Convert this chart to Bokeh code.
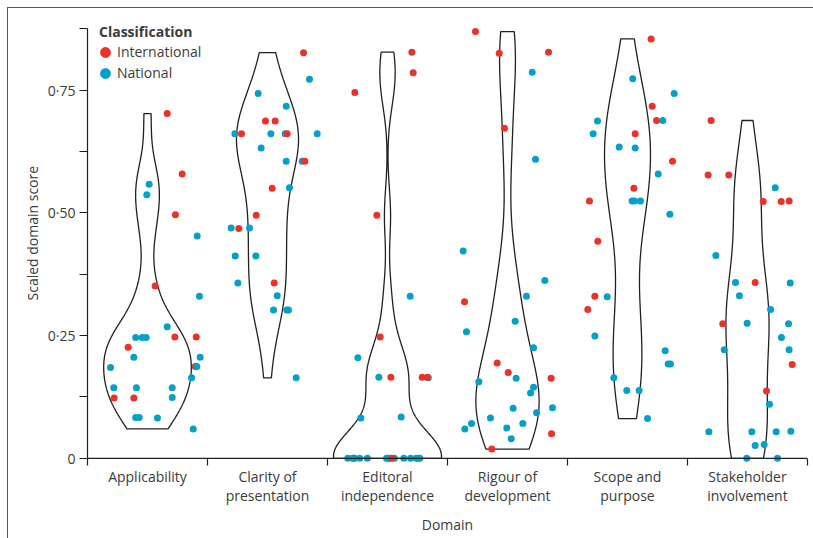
import numpy as np
from bokeh.plotting import figure
from bokeh.models import (FixedTicker, Range1d, Legend, LegendItem, Title, Span,
                          ColumnDataSource)
from bokeh.embed import file_html
from bokeh.resources import INLINE

# ---------------- data ----------------
DOMAINS = ["Applicability", "Clarity of\npresentation", "Editoral\nindependence",
           "Rigour of\ndevelopment", "Scope and\npurpose", "Stakeholder\ninvolvement"]

Y_TICKS = [0, 0.25, 0.5, 0.75]
Y_TICK_LABELS = ["0", "0·25", "0·50", "0·75"]
Y_MINOR_TICKS = [0.125, 0.375, 0.625, 0.875]

CLASSES = ["International", "National"]

# I = International, N = National ; jitter = horizontal offset in category units
applicability_score = [0.702, 0.579, 0.558, 0.537, 0.496, 0.453, 0.351, 0.330, 0.268, 0.246,
                       0.246, 0.246, 0.247, 0.247, 0.226, 0.206, 0.206, 0.185, 0.187, 0.187,
                       0.164, 0.144, 0.144, 0.144, 0.124, 0.123, 0.123, 0.083, 0.083, 0.082, 0.060]
applicability_jitter = [0.164, 0.289, 0.014, -0.006, 0.233, 0.414, 0.064, 0.433, 0.164, -0.098,
                        -0.044, -0.011, 0.228, 0.406, -0.161, -0.114, 0.439, -0.308, 0.398, 0.411,
                        0.367, -0.281, -0.092, 0.206, 0.206, -0.278, -0.114, -0.098, -0.069, 0.083, 0.381]
applicability_class = ["I", "I", "N", "N", "I", "N", "I", "N", "N", "N",
                       "N", "N", "I", "I", "I", "N", "N", "N", "I", "N",
                       "N", "N", "N", "N", "N", "I", "I", "N", "N", "N", "N"]

clarity_score = [0.826, 0.772, 0.743, 0.717, 0.687, 0.687, 0.661, 0.661, 0.661, 0.661,
                 0.661, 0.661, 0.632, 0.605, 0.605, 0.605, 0.550, 0.551, 0.495, 0.469,
                 0.468, 0.469, 0.412, 0.412, 0.357, 0.357, 0.331, 0.302, 0.302, 0.302, 0.164]
clarity_jitter = [0.300, 0.350, -0.078, 0.156, -0.017, 0.064, -0.272, -0.217, 0.028, 0.147,
                  0.164, 0.414, -0.053, 0.156, 0.289, 0.311, 0.039, 0.183, -0.094, -0.303,
                  -0.239, -0.150, -0.269, -0.097, -0.247, 0.056, 0.081, 0.050, 0.161, 0.175, 0.239]
clarity_class = ["I", "N", "N", "N", "I", "I", "N", "I", "N", "N",
                 "I", "N", "N", "N", "N", "I", "I", "N", "I", "N",
                 "I", "N", "N", "N", "N", "I", "N", "N", "N", "N", "N"]

editorial_score = [0.827, 0.785, 0.745, 0.495, 0.330, 0.247, 0.205, 0.165, 0.165, 0.165,
                   0.164, 0.165, 0.082, 0.084, 0.0, 0.0, 0.0, 0.0, 0.0, 0.0,
                   0.0, 0.0, 0.0, 0.0, 0.0, 0.0, 0.0, 0.0, 0.0, 0.0, 0.0]
editorial_jitter = [0.203, 0.214, -0.272, -0.089, 0.189, -0.061, -0.247, -0.072, 0.028, 0.289,
                    0.340, 0.333, -0.222, 0.114, -0.290, -0.331, -0.282, -0.275, -0.232, -0.168,
                    -0.008, 0.005, 0.011, 0.020, 0.058, 0.136, 0.192, 0.240, 0.255, 0.269, 0.036]
editorial_class = ["I", "I", "I", "I", "N", "I", "N", "N", "I", "I",
                   "N", "I", "N", "N", "I", "N", "N", "N", "N", "N",
                   "N", "N", "N", "N", "N", "N", "N", "N", "N", "N", "I"]

rigour_score = [0.869, 0.825, 0.827, 0.786, 0.672, 0.609, 0.422, 0.362, 0.330, 0.319,
                0.279, 0.258, 0.225, 0.194, 0.175, 0.156, 0.163, 0.163, 0.145, 0.133,
                0.102, 0.103, 0.093, 0.082, 0.071, 0.060, 0.062, 0.071, 0.040, 0.050, 0.019]
rigour_jitter = [-0.267, -0.069, 0.342, 0.206, -0.025, 0.233, -0.369, 0.311, 0.158, -0.358,
                 0.064, -0.342, 0.217, -0.086, 0.006, -0.239, 0.072, 0.364, 0.217, 0.192,
                 0.047, 0.375, 0.242, -0.142, -0.300, -0.356, -0.006, 0.128, 0.031, 0.367, -0.131]
rigour_class = ["I", "I", "I", "N", "I", "N", "N", "N", "N", "I",
                "N", "N", "N", "I", "I", "N", "N", "I", "N", "N",
                "N", "N", "N", "N", "N", "N", "N", "N", "N", "I", "I"]

scope_score = [0.854, 0.773, 0.743, 0.717, 0.687, 0.688, 0.688, 0.661, 0.661, 0.634,
               0.632, 0.605, 0.579, 0.550, 0.524, 0.524, 0.524, 0.524, 0.497, 0.442,
               0.330, 0.329, 0.303, 0.249, 0.219, 0.192, 0.192, 0.164, 0.138, 0.138, 0.081]
scope_jitter = [0.197, 0.044, 0.389, 0.206, -0.250, 0.242, 0.294, -0.286, 0.064, -0.069,
                0.064, 0.375, 0.256, 0.053, -0.317, 0.039, 0.058, 0.108, 0.353, -0.247,
                -0.272, -0.169, -0.331, -0.272, 0.314, 0.339, 0.358, -0.114, -0.006, 0.097, 0.167]
scope_class = ["I", "N", "N", "I", "N", "I", "N", "N", "I", "N",
               "N", "I", "N", "I", "I", "N", "N", "N", "N", "I",
               "I", "N", "I", "N", "N", "N", "N", "N", "N", "N", "N"]

stakeholder_score = [0.688, 0.577, 0.577, 0.551, 0.523, 0.523, 0.524, 0.413, 0.358, 0.358,
                     0.357, 0.331, 0.303, 0.274, 0.275, 0.274, 0.246, 0.221, 0.221, 0.191,
                     0.137, 0.110, 0.054, 0.054, 0.054, 0.055, 0.026, 0.028, 0.0, 0.0]
stakeholder_jitter = [-0.303, -0.328, -0.156, 0.231, 0.131, 0.281, 0.347, -0.264, -0.100, 0.064,
                      0.356, -0.067, 0.192, -0.206, -0.003, 0.342, 0.283, -0.194, 0.347, 0.372,
                      0.158, 0.183, -0.322, 0.036, 0.239, 0.361, 0.064, 0.139, -0.006, 0.250]
stakeholder_class = ["I", "I", "I", "N", "I", "I", "I", "N", "N", "I",
                     "N", "N", "N", "I", "N", "N", "N", "N", "N", "I",
                     "I", "N", "N", "N", "N", "N", "N", "N", "N", "N"]

SCORES = [applicability_score, clarity_score, editorial_score,
          rigour_score, scope_score, stakeholder_score]
JITTERS = [applicability_jitter, clarity_jitter, editorial_jitter,
           rigour_jitter, scope_jitter, stakeholder_jitter]
CLASS_CODES = [applicability_class, clarity_class, editorial_class,
               rigour_class, scope_class, stakeholder_class]

# ---------------- styles ----------------
RED = "#ec3228"
BLUE = "#05a0c8"
INK = "#231f20"
TEXT = "#3b3b3b"
FONT = "Open Sans"


def kde_trim(vals, n=512):
    v = np.asarray(vals, dtype=float)
    sd = v.std(ddof=1)
    q75, q25 = np.percentile(v, [75, 25])
    lo = min(sd, (q75 - q25) / 1.34)
    if lo <= 0:
        lo = sd if sd > 0 else 1.0
    bw = 0.9 * lo * len(v) ** -0.2
    grid = np.linspace(v.min(), v.max(), n)
    dens = np.exp(-0.5 * ((grid[:, None] - v[None, :]) / bw) ** 2).sum(1)
    dens /= (len(v) * bw * np.sqrt(2 * np.pi))
    return grid, dens


p = figure(frame_width=720, frame_height=442,
           x_range=Range1d(0, 6), y_range=Range1d(-0.0125, 0.8875),
           output_backend="svg", toolbar_location=None,
           min_border_left=79, min_border_right=6, min_border_top=14, min_border_bottom=74,
           background_fill_color="white", border_fill_color="white")
p.styles = {"margin-left": "7px", "margin-top": "7px",
            "border-left": "1px solid #2c6e50", "border-top": "1px solid #2c6e50"}
p.outline_line_color = None
p.grid.visible = False

# violins (trimmed kernel density, common area scaling, width 0.9)
kdes = [kde_trim(s) for s in SCORES]
gmax = max(d.max() for _, d in kdes)
for i, (grid, dens) in enumerate(kdes):
    c = i + 0.5
    hw = dens / gmax * 0.45
    xs = np.concatenate([c + hw, (c - hw)[::-1]])
    ys = np.concatenate([grid, grid[::-1]])
    p.patch(xs, ys, fill_color=None, line_color=INK, line_width=1.3)

# x axis line at zero
p.add_layout(Span(location=0, dimension="width", line_color=INK, line_width=1.2))

# jittered points
px, py, pc = [], [], []
for i in range(len(DOMAINS)):
    for s, j, k in zip(SCORES[i], JITTERS[i], CLASS_CODES[i]):
        px.append(i + 0.5 + j)
        py.append(s)
        pc.append(RED if k == "I" else BLUE)
src = ColumnDataSource(dict(x=px, y=py, c=pc))
p.scatter("x", "y", source=src, size=7, fill_color="c", line_color=None)

# legend (off-screen proxy glyphs)
r_i = p.scatter([np.nan], [np.nan], fill_color=RED, line_color=RED, line_width=6)
r_n = p.scatter([np.nan], [np.nan], fill_color=BLUE, line_color=BLUE, line_width=6)
legend = Legend(items=[LegendItem(label=CLASSES[0], renderers=[r_i]),
                       LegendItem(label=CLASSES[1], renderers=[r_n])],
                title="Classification", location=(12, 382),
                border_line_color=None, background_fill_alpha=0,
                padding=1, margin=0, spacing=2, glyph_width=12, glyph_height=18,
                label_height=18, label_standoff=6, title_standoff=1,
                title_text_font=FONT, title_text_font_size="14px",
                title_text_font_style="bold", title_text_color=TEXT,
                label_text_font=FONT, label_text_font_size="14px", label_text_color=TEXT)
p.add_layout(legend)

# x axis
xa = p.xaxis[0]
xa.ticker = FixedTicker(ticks=[i + 0.5 for i in range(len(DOMAINS))],
                        minor_ticks=list(range(len(DOMAINS) + 1)))
xa.major_label_overrides = {i + 0.5: d for i, d in enumerate(DOMAINS)}
xa.axis_line_color = None
xa.major_tick_out = 0
xa.major_tick_in = 0
xa.minor_tick_out = 1
xa.minor_tick_in = 6
xa.minor_tick_line_color = INK
xa.minor_tick_line_width = 1.2
xa.major_label_standoff = 1
xa.major_label_text_font = FONT
xa.major_label_text_font_size = "14px"
xa.major_label_text_color = TEXT
xa.major_label_text_line_height = 1.05
xa.axis_label = "Domain"
xa.axis_label_text_font = FONT
xa.axis_label_text_font_size = "14px"
xa.axis_label_text_font_style = "normal"
xa.axis_label_text_color = TEXT
xa.axis_label_standoff = 7

# y axis
ya = p.yaxis[0]
ya.ticker = FixedTicker(ticks=Y_TICKS, minor_ticks=Y_MINOR_TICKS)
ya.major_label_overrides = dict(zip(Y_TICKS, Y_TICK_LABELS))
ya.bounds = (0, 0.875)
ya.major_tick_out = 8
ya.major_tick_in = 0
ya.minor_tick_out = 8
ya.minor_tick_in = 0
ya.axis_line_color = INK
ya.axis_line_width = 1.2
ya.major_tick_line_color = INK
ya.minor_tick_line_color = INK
ya.major_tick_line_width = 1.2
ya.minor_tick_line_width = 1.2
ya.major_label_standoff = 4
ya.major_label_text_font = FONT
ya.major_label_text_font_size = "14px"
ya.major_label_text_color = TEXT

ytitle = Title(text="Scaled domain score", align="left", offset=164,
               text_font=FONT, text_font_size="14px", text_font_style="normal",
               text_color=TEXT)
if "standoff" in ytitle.properties():
    ytitle.standoff = 6
p.add_layout(ytitle, "left")

open("out.html", "w").write(file_html(p, INLINE))
